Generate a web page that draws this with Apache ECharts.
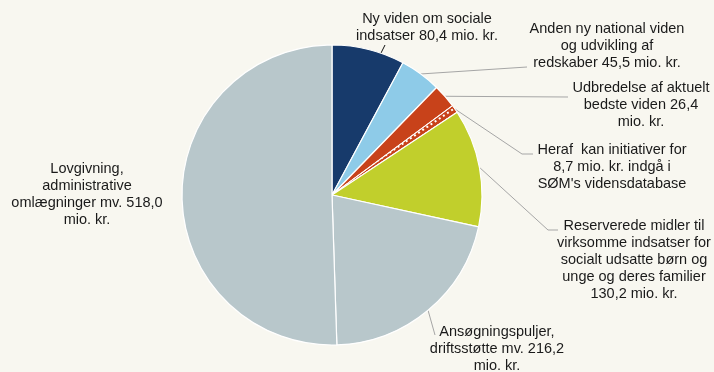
<!DOCTYPE html>
<html>
<head>
<meta charset="utf-8">
<script src="https://cdn.jsdelivr.net/npm/echarts@6/dist/echarts.min.js"></script>
<style>
  html, body { margin: 0; padding: 0; background: #f8f7f0; }
  #chart { width: 714px; height: 372px; }
</style>
</head>
<body>
<div id="chart"></div>
<script>
// Budget items (mio. kr.), clockwise from 12 o'clock
const categories = [
  'Ny viden om sociale\nindsatser 80,4 mio. kr.',
  'Anden ny national viden\nog udvikling af\nredskaber 45,5 mio. kr.',
  'Udbredelse af aktuelt\nbedste viden 26,4\nmio. kr.',
  "Heraf  kan initiativer for\n8,7 mio. kr. indgå i\nSØM's vidensdatabase",
  'Reserverede midler til\nvirksomme indsatser for\nsocialt udsatte børn og\nunge og deres familier\n130,2 mio. kr.',
  'Ansøgningspuljer,\ndriftsstøtte mv. 216,2\nmio. kr.',
  'Lovgivning,\nadministrative\nomlægninger mv. 518,0\nmio. kr.'
];
const values = [80.4, 45.5, 26.4, 8.7, 130.2, 216.2, 518.0];
const colors = ['#173a6b', '#8ecbe8', '#c8421a', '#c8421a', '#c1cf2c', '#b8c7cb', '#b8c7cb'];

// Label block centres and leader-line bends (null start = slice edge)
const labelSpots = [
  [427, 27], [607, 46], [641, 105], [612, 167], [634, 260], [497, 349], [87, 194]
];
const guideBends = [
  [[380, 55], [385, 45]],
  [null, [527, 67]],
  [null, [568, 97]],
  [null, [522, 154], [533, 154]],
  [null, [548, 230], [558, 230]],
  [null, [435, 335]],
  null
];

const chart = echarts.init(document.getElementById('chart'), null, { renderer: 'canvas' });

const data = values.map((v, i) => {
  const item = {
    name: categories[i],
    value: v,
    itemStyle: { color: colors[i] },
    labelLine: { show: guideBends[i] !== null, lineStyle: { color: i === 0 ? '#111' : '#a6a6a6', width: 1 } }
  };
  if (i === 3) {
    // dotted fill marks the share that goes into the knowledge base
    item.itemStyle.borderWidth = 0.8;
    item.itemStyle.decal = {
      symbol: 'rect',
      symbolSize: 1,
      color: '#ffffff',
      dashArrayX: [2, 3],
      dashArrayY: [2, 3],
      rotation: -0.6
    };
  }
  return item;
});

chart.setOption({
  backgroundColor: '#f8f7f0',
  animation: false,
  series: [{
    type: 'pie',
    center: [332, 195],
    radius: [0, 150],
    startAngle: 90,
    clockwise: true,
    avoidLabelOverlap: false,
    itemStyle: { borderColor: '#ffffff', borderWidth: 1.2 },
    label: {
      show: true,
      position: 'outside',
      formatter: '{b}',
      color: '#1a1a1a',
      fontFamily: 'Liberation Sans, Arial, sans-serif',
      fontSize: 14.5,
      lineHeight: 17,
      align: 'center'
    },
    labelLine: { show: true, length: 10, length2: 10, smooth: false },
    labelLayout: function (p) {
      const i = p.dataIndex;
      const out = {
        x: labelSpots[i][0],
        y: labelSpots[i][1],
        align: 'center',
        verticalAlign: 'middle'
      };
      const bends = guideBends[i];
      if (bends) {
        const start = bends[0] || (p.labelLinePoints ? p.labelLinePoints[0] : bends[1]);
        out.labelLinePoints = [start].concat(bends.slice(1));
        if (out.labelLinePoints.length === 2) {
          out.labelLinePoints.push(out.labelLinePoints[1]);
        }
      }
      return out;
    },
    data: data
  }]
});
</script>
</body>
</html>
